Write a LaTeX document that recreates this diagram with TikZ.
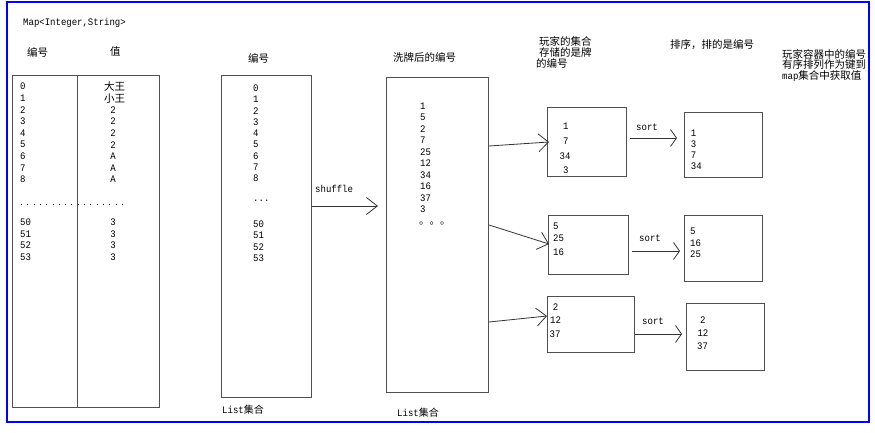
\documentclass[tikz,border=0pt]{standalone}
\usepackage{fontspec}
\setmainfont{Liberation Mono}[FakeStretch=0.9]
\newfontfamily\cjk{Noto Sans CJK SC}
\usetikzlibrary{arrows.meta}
\definecolor{frameblue}{RGB}{0,0,255}
\definecolor{boxgray}{RGB}{80,80,80}
\tikzset{
  box/.style={draw=boxgray, line width=1pt, inner sep=0pt, anchor=north west},
  lat/.style={font=\rmfamily\fontsize{10}{10}\selectfont, inner sep=0pt, anchor=west},
  zh/.style={font=\fontsize{10.5}{11}\selectfont\cjk, inner sep=0pt, anchor=west},
  arr/.style={draw=black!80, line width=0.8pt, -{Straight Barb[length=10pt,width=18pt]}},
  sarr/.style={draw=black!80, line width=0.8pt, -{Straight Barb[length=6pt,width=17pt]}},
}
\newcommand{\zhtxt}[1]{{\cjk #1}}
\begin{document}
\begin{tikzpicture}[x=1pt,y=-1pt]
\useasboundingbox (0,0) rectangle (875,433);
% outer frame
\draw[frameblue, line width=1.2pt] (7,2) rectangle (869,422);

% ---------- Map table ----------
\node[lat] (maptitle) at (23,23) {Map<Integer,String>};
\node[zh] (h1) at (27,52) {编号};
\node[zh] (h2) at (110,52) {值};
\node[box, minimum width=147pt, minimum height=332pt] (tbl) at (12,75) {};
\draw[draw=boxgray, line width=1pt] (77,75) -- (77,407);
\foreach \t [count=\i from 0] in {0,1,2,3,4,5,6,7,8}
  \node[lat] (ka\i) at (20,{86.5+\i*11.65}) {\t};
\node[zh, anchor=center] (va0) at (114.5,86.5) {大王};
\node[zh, anchor=center] (va1) at (114.5,98.2) {小王};
\foreach \t [count=\i from 2] in {2,2,2,2,A,A,A}
  \node[lat, anchor=center] (va\i) at (113,{86.5+\i*11.65}) {\t};
\draw[black, line width=1pt, dash pattern=on 1pt off 5.3pt] (21,204) -- (126,204);
\foreach \t [count=\i from 0] in {50,51,52,53}
  \node[lat] (kb\i) at (20,{222.3+\i*11.5}) {\t};
\foreach \i in {0,1,2,3}
  \node[lat, anchor=center] (vb\i) at (113,{222.3+\i*11.5}) {3};

% ---------- List ----------
\node[zh] (lh) at (248,58) {编号};
\node[box, minimum width=90pt, minimum height=322pt] (lst) at (221,75) {};
\foreach \t [count=\i from 0] in {0,1,2,3,4,5,6,7,8}
  \node[lat] (la\i) at (253,{88.3+\i*11.25}) {\t};
\node[lat] (ldots) at (253,201) {...};
\foreach \t [count=\i from 0] in {50,51,52,53}
  \node[lat] (lb\i) at (253,{224+\i*11.5}) {\t};
\node[lat] (lcap) at (222,410) {List\zhtxt{集合}};

% shuffle arrow
\node[lat] (shufl) at (315,189) {shuffle};
\coordinate (shtip) at (378,206);
\draw[arr, -{Straight Barb[length=11pt,width=17pt]}] (lst.east |- shtip) -- (shtip);

% ---------- shuffled list ----------
\node[zh] (sh) at (393,57) {洗牌后的编号};
\node[box, minimum width=102pt, minimum height=315pt] (shuf) at (386,77) {};
\foreach \t [count=\i from 0] in {1,5,2,7,25,12,34,16,37,3}
  \node[lat] (sa\i) at (420,{106+\i*11.52}) {\t};
\node[zh] (sdots) at (419,223.5) {。。。};
\node[lat] (scap) at (397,413) {List\zhtxt{集合}};

% ---------- player boxes ----------
\node[zh] (pt1) at (539,41) {玩家的集合};
\node[zh] (pt2) at (539,52.5) {存储的是牌};
\node[zh] (pt3) at (536,63.5) {的编号};

\node[box, minimum width=79pt, minimum height=69pt] (p1) at (547,107) {};
\node[lat] (p1a) at (563,126.7) {1};
\node[lat] (p1b) at (563,141.7) {7};
\node[lat] (p1c) at (559.5,156.7) {34};
\node[lat] (p1d) at (563,170.7) {3};

\node[box, minimum width=80pt, minimum height=59pt] (p2) at (548,215) {};
\node[lat] (p2a) at (553,226.7) {5};
\node[lat] (p2b) at (553,238.3) {25};
\node[lat] (p2c) at (553,252.3) {16};

\node[box, minimum width=87pt, minimum height=56pt] (p3) at (547,296) {};
\node[lat] (p3a) at (552.7,307.3) {2};
\node[lat] (p3b) at (550,320) {12};
\node[lat] (p3c) at (549.5,334) {37};

\coordinate (t1) at (549,142);
\coordinate (t2) at (549,244);
\coordinate (t3) at (547,316);
\draw[arr] (shuf.east |- 0,146) -- (t1);
\draw[arr] (shuf.east |- 0,225) -- (t2);
\draw[arr] (shuf.east |- 0,322) -- (t3);

% ---------- sorted ----------
\node[zh] (st) at (670,45) {排序，排的是编号};
\node[zh] (rt1) at (782,54.5) {玩家容器中的编号};
\node[zh] (rt2) at (782,65) {有序排列作为键到};
\node[zh] (rt3) at (782,76) {{\rmfamily\fontsize{10}{10}\selectfont map}集合中获取值};

\node[box, minimum width=78pt, minimum height=65pt] (s1) at (684,112) {};
\foreach \t [count=\i from 0] in {1,3,7,34}
  \node[lat] (s1\i) at (690.7,{133.3+\i*11.1}) {\t};

\node[box, minimum width=78pt, minimum height=66pt] (s2) at (684,215) {};
\foreach \t [count=\i from 0] in {5,16,25}
  \node[lat] (s2\i) at (690,{231.7+\i*11.2}) {\t};

\node[box, minimum width=78pt, minimum height=67pt] (s3) at (686,303) {};
\node[lat] (s3a) at (700,320) {2};
\node[lat] (s3b) at (697.3,333.3) {12};
\node[lat] (s3c) at (697,346) {37};

% sort arrows
\node[lat] (so1) at (636,127) {sort};
\node[lat] (so2) at (639,238) {sort};
\node[lat] (so3) at (642,321) {sort};
\coordinate (u1) at (677,138);
\coordinate (u2) at (680,251);
\coordinate (u3) at (682,334);
\draw[sarr] (630,138) -- (u1);
\draw[sarr] (632,251) -- (u2);
\draw[sarr] (p3.east |- u3) -- (u3);
\end{tikzpicture}
\end{document}
